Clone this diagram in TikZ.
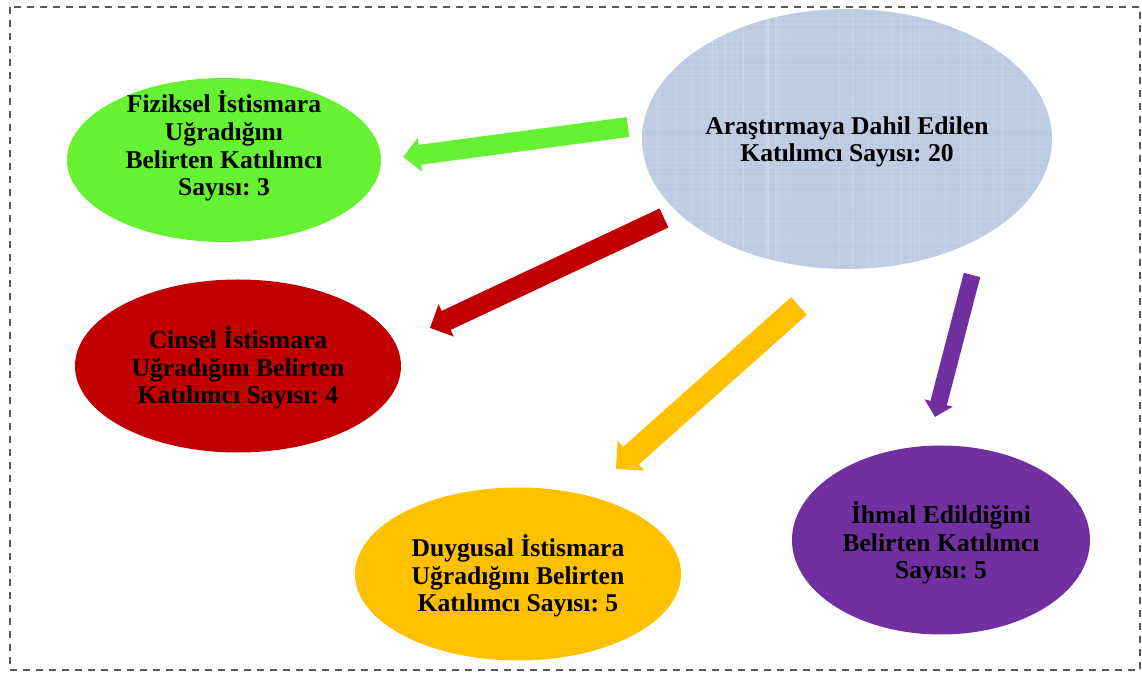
\documentclass[tikz,border=0pt]{standalone}
\usepackage{fontspec}
\setmainfont{Liberation Serif}
\usetikzlibrary{arrows.meta,shapes.geometric}

\definecolor{anamavi}{RGB}{190,204,228}
\definecolor{fizyesil}{RGB}{102,242,51}
\definecolor{cinkirmizi}{RGB}{192,0,0}
\definecolor{duysari}{RGB}{255,192,0}
\definecolor{ihmor}{RGB}{112,48,160}
\definecolor{cerceve}{RGB}{89,89,89}

\begin{document}
\frenchspacing
\begin{tikzpicture}[x=0.5pt, y=-0.5pt,
    oval/.style={ellipse, inner sep=0pt},
    yazi/.style={align=center, font=\fontsize{12.8}{13.8}\selectfont\bfseries},
    okblok/.style={line width=#1, -{Triangle[length=0pt 0.85, width=0pt 1.65]}}]
    \useasboundingbox (0,0) rectangle (1142,673);

    % dashed frame
    \draw[cerceve, line width=0.8pt, dash pattern=on 3.5pt off 3pt] (10,7) rectangle (1140,670);

    % Ellipses
    \node[oval, fill=anamavi, minimum width=205pt, minimum height=130pt] (ana) at (847,139) {};
    \node[oval, fill=fizyesil, minimum width=157pt, minimum height=82pt] (fiziksel) at (224,160) {};
    \node[oval, fill=cinkirmizi, minimum width=163pt, minimum height=86.5pt] (cinsel) at (238,366) {};
    \node[oval, fill=duysari, minimum width=163pt, minimum height=86.5pt] (duygusal) at (518,574) {};
    \node[oval, fill=ihmor, minimum width=149pt, minimum height=94.5pt] (ihmal) at (941,540) {};

    % cloth texture on the main ellipse
    \begin{scope}
        \clip (847,139) ellipse (205 and 130);
        \pgfmathsetseed{11}
        \foreach \i in {1,...,60} {
            \pgfmathsetmacro{\xx}{642+410*rnd}
            \pgfmathsetmacro{\yy}{9+260*rnd}
            \draw[white, opacity=0.12, line width=0.4pt] (\xx,9) -- (\xx,269);
            \draw[anamavi!80!black, opacity=0.08, line width=0.4pt] (642,\yy) -- (1052,\yy);
        }
    \end{scope}

    % Texts
    \node[yazi] (anayazi) at (847,142) {Araştırmaya Dahil Edilen\\Katılımcı Sayısı: 20};
    \node[yazi] (fizyazi) at (224,146) {Fiziksel İstismara\\Uğradığını\\Belirten Katılımcı\\Sayısı: 3};
    \node[yazi] (cinyazi) at (238,368) {Cinsel İstismara\\Uğradığını Belirten\\Katılımcı Sayısı: 4};
    \node[yazi] (duyyazi) at (518,576) {Duygusal İstismara\\Uğradığını Belirten\\Katılımcı Sayısı: 5};
    \node[yazi] (ihmyazi) at (941,543) {İhmal Edildiğini\\Belirten Katılımcı\\Sayısı: 5};

    % Arrows
    \coordinate (fiz-bas) at (628,127);
    \coordinate (fiz-uc) at (403,157);
    \coordinate (cin-bas) at (664,218);
    \coordinate (cin-uc) at (430,328);
    \coordinate (duy-bas) at (799,306);
    \coordinate (duy-uc) at (616,469);
    \coordinate (ihm-bas) at (972,275);
    \coordinate (ihm-uc) at (935,417);
    \foreach \ad/\renk/\kalin in {fiz/fizyesil/10pt, cin/cinkirmizi/10.5pt, duy/duysari/11.8pt, ihm/ihmor/8.5pt} {
        \draw[okblok=\kalin, \renk] (\ad-bas) -- (\ad-uc);
    }
\end{tikzpicture}
\end{document}
